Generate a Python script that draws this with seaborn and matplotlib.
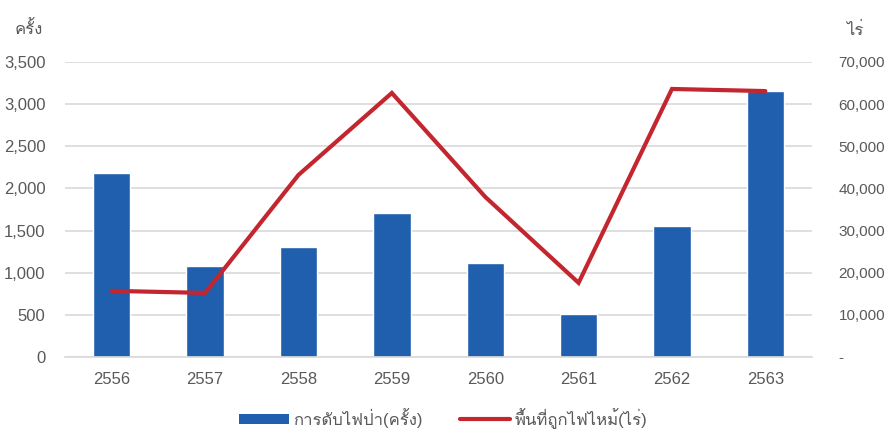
import numpy as np
import pandas as pd
import matplotlib
matplotlib.use("Agg")
import matplotlib.pyplot as plt
from matplotlib import font_manager
from matplotlib.ft2font import FT2Font
from matplotlib.patches import Patch
from matplotlib.lines import Line2D
from matplotlib.ticker import FuncFormatter, MultipleLocator
import seaborn as sns

# Fire statistics by Thai fiscal year (B.E.)
years = ["2556", "2557", "2558", "2559", "2560", "2561", "2562", "2563"]
suppression_count = [2183, 1080, 1310, 1708, 1115, 505, 1554, 3155]      # ครั้ง
burnt_area_rai = [15700, 15200, 43200, 62650, 38000, 17600, 63600, 63100]  # ไร่

left_label = "ครั้ง"
right_label = "ไร่"
bar_legend = "การดับไฟป่า(ครั้ง)"
line_legend = "พื้นที่ถูกไฟไหม้(ไร่)"

sns.set_theme(style="white")


def find_thai_font():
    probe = "ก"
    for f in font_manager.fontManager.ttflist:
        try:
            cmap = FT2Font(f.fname).get_charmap()
        except Exception:
            continue
        if ord(probe) in cmap:
            return f.name
    return None


thai = find_thai_font()
fams = ["Liberation Sans"] + ([thai] if thai else []) + ["DejaVu Sans"]
plt.rcParams["font.family"] = fams

bar_color = "#1F5FAE"
line_color = "#C3262E"
text_color = "#595959"
grid_color = "#D9D9D9"

df = pd.DataFrame({"year": years, "count": suppression_count,
                   "area": burnt_area_rai, "pos": np.arange(len(years))})

fig = plt.figure(figsize=(8.86, 4.32), dpi=100)
ax = fig.add_axes([0.0734, 0.1736, 0.8431, 0.6829])
ax2 = ax.twinx()

sns.barplot(data=df, x="year", y="count", order=years, color=bar_color,
            width=0.4, saturation=1, ax=ax, zorder=2)
sns.lineplot(data=df, x="pos", y="area", color=line_color, linewidth=3,
             ax=ax2, zorder=3, solid_joinstyle="miter")

ax.set_xlim(-0.5, len(years) - 0.5)
ax.set_ylim(0, 3500)
ax2.set_ylim(0, 70000)
ax.yaxis.set_major_locator(MultipleLocator(500))
ax2.yaxis.set_major_locator(MultipleLocator(10000))
ax.yaxis.set_major_formatter(FuncFormatter(lambda v, p: f"{int(v):,}"))
ax2.yaxis.set_major_formatter(
    FuncFormatter(lambda v, p: f"{int(v):,}" if v > 0 else "-"))

ax.set_xlabel("")
ax.set_ylabel("")
ax2.set_xlabel("")
ax2.set_ylabel("")

ax.grid(axis="y", color=grid_color, linewidth=1.2, zorder=0)
ax.set_axisbelow(True)
ax2.grid(False)
for a in (ax, ax2):
    for s in a.spines.values():
        s.set_visible(False)
ax.spines["bottom"].set_visible(True)
ax.spines["bottom"].set_color(grid_color)
ax.spines["bottom"].set_linewidth(1.2)

ax.tick_params(axis="y", length=0, pad=14, labelsize=12, labelcolor=text_color)
ax.tick_params(axis="x", length=0, pad=11, labelsize=12, labelcolor=text_color)
ax2.tick_params(axis="y", length=0, pad=19, labelsize=11, labelcolor=text_color)
for lab in ax2.get_yticklabels():
    lab.set_horizontalalignment("left")

fig.text(0.017, 0.935, left_label, fontsize=12, color=text_color,
         ha="left", va="center")
fig.text(0.955, 0.93, right_label, fontsize=12, color=text_color,
         ha="left", va="center")

handles = [Patch(facecolor=bar_color, edgecolor="none"),
           Line2D([0], [0], color=line_color, linewidth=3)]
fig.legend(handles, [bar_legend, line_legend], loc="center",
           bbox_to_anchor=(0.5, 0.032), ncol=2, frameon=False, fontsize=12,
           labelcolor=text_color, handlelength=3.0, handleheight=0.6,
           columnspacing=2.2, handletextpad=0.3)

fig.savefig("out.png", dpi=100)
